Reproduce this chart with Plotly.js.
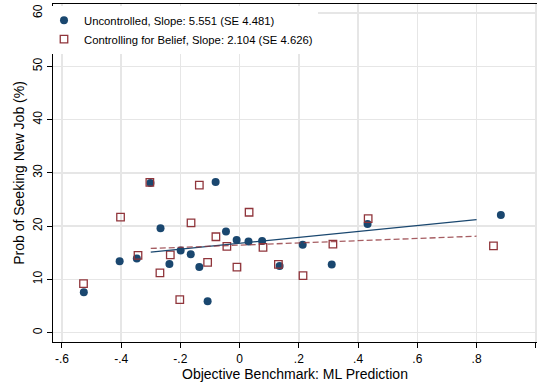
<!DOCTYPE html>
<html>
<head>
<meta charset="utf-8">
<script src="https://cdn.plot.ly/plotly-3.0.1.min.js"></script>
<style>html,body{margin:0;padding:0;background:#fff;}#chart{width:537px;height:385px;}</style>
</head>
<body>
<div id="chart"></div>
<script>
// Uncontrolled (navy circles)
var uncX = [-0.526, -0.405, -0.347, -0.301, -0.267, -0.237, -0.199, -0.165, -0.136, -0.108, -0.081, -0.046, -0.010, 0.030, 0.076, 0.135, 0.213, 0.311, 0.432, 0.882];
var uncY = [7.6, 13.4, 13.9, 28.1, 19.6, 12.9, 15.4, 14.7, 12.3, 5.9, 28.3, 19.0, 17.4, 17.1, 17.2, 12.5, 16.5, 12.8, 20.4, 22.1];
// Controlling for belief (maroon hollow squares)
var ctlX = [-0.527, -0.402, -0.343, -0.303, -0.269, -0.234, -0.202, -0.164, -0.136, -0.108, -0.080, -0.043, -0.009, 0.032, 0.079, 0.131, 0.214, 0.315, 0.434, 0.857];
var ctlY = [9.2, 21.7, 14.5, 28.2, 11.2, 14.6, 6.2, 20.6, 27.7, 13.2, 18.0, 16.2, 12.3, 22.6, 16.0, 12.8, 10.7, 16.6, 21.4, 16.3];
// Fitted lines
var fitX = [-0.3, 0.8];
var fitUnc = [15.1, 21.2];
var fitCtl = [15.8, 18.1];
// Ticks
var xTickVals = [-0.6, -0.4, -0.2, 0, 0.2, 0.4, 0.6, 0.8, 1];
var xTickText = ['-.6', '-.4', '-.2', '0', '.2', '.4', '.6', '.8', '1'];
var yTickVals = [0, 10, 20, 30, 40, 50, 60];
var yTickText = ['0', '10', '20', '30', '40', '50', '60'];
var labels = ['Uncontrolled, Slope: 5.551 (SE 4.481)', 'Controlling for Belief, Slope: 2.104 (SE 4.626)'];

var navy = '#1a476f';
var maroon = '#90353b';
var font = 'Liberation Sans, Arial, sans-serif';

var traces = [
  {x: uncX, y: uncY, type: 'scatter', mode: 'markers', name: labels[0],
   marker: {symbol: 'circle', size: 8, color: navy, line: {width: 0}}},
  {x: ctlX, y: ctlY, type: 'scatter', mode: 'markers', name: labels[1],
   marker: {symbol: 'square-open', size: 7.5, color: maroon, line: {width: 1.3, color: maroon}}},
  {x: fitX, y: fitUnc, type: 'scatter', mode: 'lines', showlegend: false,
   line: {color: navy, width: 1.3}},
  {x: fitX, y: fitCtl, type: 'scatter', mode: 'lines', showlegend: false,
   line: {color: 'rgba(144,53,59,0.8)', width: 1.3, dash: '6px,3px'}}
];

var layout = {
  width: 537, height: 385,
  margin: {l: 53, r: 0, t: 4, b: 43, pad: 0},
  paper_bgcolor: '#fff', plot_bgcolor: '#fff',
  font: {family: font, size: 12, color: '#000'},
  showlegend: true,
  legend: {x: -0.0186, y: 0.995, xanchor: 'left', yanchor: 'top',
           bgcolor: '#fff', borderwidth: 0, font: {family: font, size: 11.3, color: '#000'},
           itemsizing: 'trace', tracegroupgap: 0},
  xaxis: {range: [-0.630, 1.004], tickvals: xTickVals, ticktext: xTickText,
          showgrid: true, gridcolor: '#e6e6e6', gridwidth: 1.5, zeroline: false,
          showline: true, linecolor: '#000', linewidth: 1.3, mirror: true,
          ticks: 'outside', ticklen: 5, tickwidth: 1, tickcolor: '#000',
          tickfont: {family: font, size: 12, color: '#000'},
          title: {text: 'Objective Benchmark: ML Prediction', font: {family: font, size: 14, color: '#000'}, standoff: 3}},
  yaxis: {range: [-1.76, 61.7], tickvals: yTickVals, ticktext: yTickText, tickangle: -90,
          showgrid: true, gridcolor: '#e6e6e6', gridwidth: 1.5, zeroline: false,
          showline: true, linecolor: '#000', linewidth: 1.3,
          ticks: 'outside', ticklen: 5, tickwidth: 1, tickcolor: '#000',
          tickfont: {family: font, size: 12, color: '#000'},
          title: {text: 'Prob of Seeking New Job (%)', font: {family: font, size: 14, color: '#000'}, standoff: 3}}
};

Plotly.newPlot('chart', traces, layout, {staticPlot: true, displayModeBar: false});
</script>
</body>
</html>
